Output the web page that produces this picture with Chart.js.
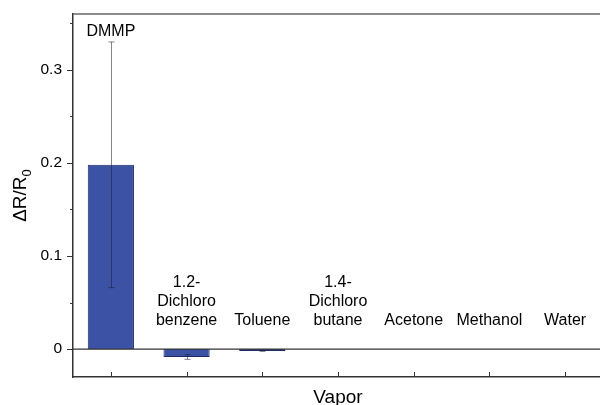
<!DOCTYPE html>
<html>
<head>
<meta charset="utf-8">
<script src="https://cdn.jsdelivr.net/npm/chart.js@4/dist/chart.umd.min.js"></script>
<style>
  html, body { margin: 0; padding: 0; background: #fff; overflow: hidden; width: 600px; height: 405px; }
  #wrap { width: 604px; height: 405px; }
</style>
</head>
<body>
<div id="wrap"><canvas id="chart" width="604" height="405"></canvas></div>
<script>
// Dữ liệu
const vapors = ['DMMP', '1.2-Dichlorobenzene', 'Toluene', '1.4-Dichlorobutane', 'Acetone', 'Methanol', 'Water'];
const vaporLines = [['DMMP'], ['1.2-', 'Dichloro', 'benzene'], ['Toluene'], ['1.4-', 'Dichloro', 'butane'], ['Acetone'], ['Methanol'], ['Water']];
const deltaR = [0.198, -0.0085, -0.002, 0, 0, 0, 0];
const errors = [0.132, 0.0025, 0.0005, 0, 0, 0, 0];
const yTickValues = [0, 0.05, 0.1, 0.15, 0.2, 0.25, 0.3, 0.35];

const FONT = '"Liberation Sans", Arial, sans-serif';

// Vẽ trục, vạch chia, thanh sai số và nhãn
const decorPlugin = {
    id: 'decor',
    afterDatasetsDraw(chart) {
        const ctx = chart.ctx;
        const area = chart.chartArea;
        const x = chart.scales.x;
        const y = chart.scales.y;
        ctx.save();

        // viền trên
        ctx.strokeStyle = '#666';
        ctx.lineWidth = 1.5;
        ctx.beginPath();
        ctx.moveTo(area.left, area.top);
        ctx.lineTo(area.right, area.top);
        ctx.stroke();

        // đường 0
        ctx.strokeStyle = '#333';
        ctx.lineWidth = 1.3;
        ctx.beginPath();
        ctx.moveTo(area.left, y.getPixelForValue(0));
        ctx.lineTo(area.right, y.getPixelForValue(0));
        ctx.stroke();

        // vạch chia trục y
        ctx.lineWidth = 1;
        yTickValues.forEach((v, i) => {
            const py = Math.round(y.getPixelForValue(v)) + 0.5;
            const len = i % 2 === 0 ? 6 : 3;
            ctx.beginPath();
            ctx.moveTo(area.left - len, py);
            ctx.lineTo(area.left, py);
            ctx.stroke();
        });

        // vạch chia trục x
        vapors.forEach((v, i) => {
            const px = Math.round(x.getPixelForValue(i)) + 0.5;
            ctx.beginPath();
            ctx.moveTo(px, area.bottom);
            ctx.lineTo(px, area.bottom - 5);
            ctx.stroke();
        });

        // thanh sai số
        ctx.strokeStyle = 'rgba(30,30,60,0.55)';
        ctx.lineWidth = 1;
        deltaR.forEach((v, i) => {
            if (!errors[i]) return;
            const px = Math.round(x.getPixelForValue(i)) + 0.5;
            const top = y.getPixelForValue(v + errors[i]);
            const bot = y.getPixelForValue(v - errors[i]);
            ctx.beginPath();
            ctx.moveTo(px, top);
            ctx.lineTo(px, bot);
            ctx.moveTo(px - 3, top);
            ctx.lineTo(px + 3, top);
            ctx.moveTo(px - 3, bot);
            ctx.lineTo(px + 3, bot);
            ctx.stroke();
        });

        // nhãn tên hơi
        ctx.fillStyle = '#000';
        ctx.font = '16px ' + FONT;
        ctx.textAlign = 'center';
        ctx.textBaseline = 'alphabetic';
        vaporLines.forEach((lines, i) => {
            const px = x.getPixelForValue(i);
            const base = Math.min(y.getPixelForValue(0.026), y.getPixelForValue(deltaR[i] + errors[i]) - 6);
            lines.forEach((t, k) => {
                ctx.fillText(t, px, base - (lines.length - 1 - k) * 19);
            });
        });

        // tiêu đề trục x
        ctx.font = '19px ' + FONT;
        ctx.fillText('Vapor', (area.left + area.right) / 2, 403);

        // tiêu đề trục y với chỉ số dưới
        ctx.font = '19px ' + FONT;
        const main = 'ΔR/R';
        const w1 = ctx.measureText(main).width;
        ctx.font = '13px ' + FONT;
        const w2 = ctx.measureText('0').width;
        const total = w1 + w2;
        ctx.translate(26, 195.5 + total / 2);
        ctx.rotate(-Math.PI / 2);
        ctx.textAlign = 'left';
        ctx.font = '19px ' + FONT;
        ctx.fillText(main, 0, 0);
        ctx.font = '13px ' + FONT;
        ctx.fillText('0', w1, 5);

        ctx.restore();
    }
};

const chart = new Chart(document.getElementById('chart').getContext('2d'), {
    type: 'bar',
    data: {
        labels: vapors,
        datasets: [{
            data: deltaR,
            backgroundColor: '#3b52a5',
            borderColor: '#1f2b66',
            borderWidth: 1,
            barPercentage: 0.61,
            categoryPercentage: 1
        }]
    },
    options: {
        responsive: false,
        animation: false,
        layout: { padding: { top: 14, right: 1, left: 0, bottom: 0 } },
        plugins: {
            legend: { display: false },
            tooltip: { enabled: false }
        },
        scales: {
            x: {
                grid: { display: false },
                border: { display: true, color: '#333', width: 1.5 },
                ticks: { display: false },
                afterFit(s) { s.height = 28; }
            },
            y: {
                min: -0.03,
                max: 0.36,
                grid: { display: false },
                border: { display: true, color: '#333', width: 1.5 },
                ticks: {
                    stepSize: 0.05,
                    padding: 3,
                    color: '#000',
                    font: { family: FONT, size: 15.5 },
                    callback(v) {
                        const t = v * 10;
                        if (v < -1e-9 || Math.abs(t - Math.round(t)) > 1e-6) return '';
                        return Math.round(t) === 0 ? '0' : (Math.round(t) / 10).toFixed(1);
                    }
                },
                afterFit(s) { s.width = 73; }
            }
        }
    },
    plugins: [decorPlugin]
});
</script>
</body>
</html>
